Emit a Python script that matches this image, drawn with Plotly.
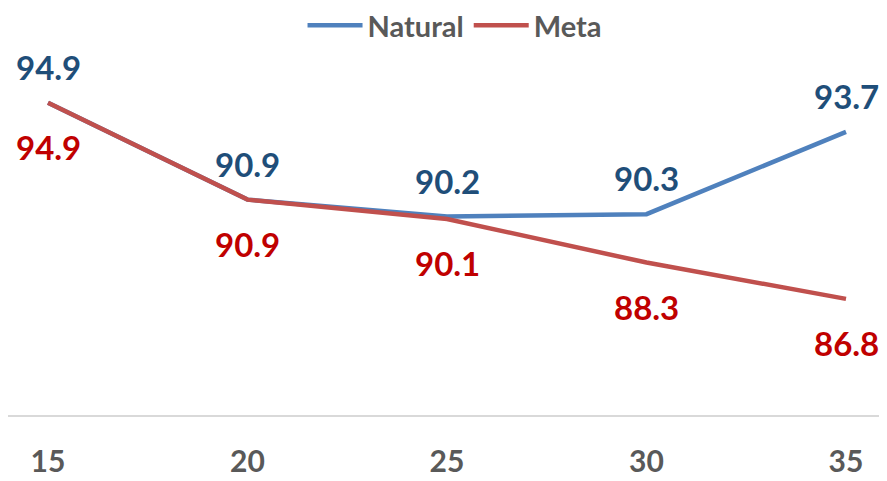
import plotly.graph_objects as go

categories = [15, 20, 25, 30, 35]
natural = [94.9, 90.9, 90.2, 90.3, 93.7]
meta = [94.9, 90.9, 90.1, 88.3, 86.8]
tick_labels = ["15", "20", "25", "30", "35"]

FONT = "Lato"
GRAY = "#595959"

fig = go.Figure()
fig.add_trace(go.Scatter(x=categories, y=natural, mode="lines", name="Natural",
                         line=dict(color="#4F81BD", width=4.5)))
fig.add_trace(go.Scatter(x=categories, y=meta, mode="lines", name="Meta",
                         line=dict(color="#C0504D", width=4.5)))

for xv, yv in zip(categories, natural):
    fig.add_annotation(x=xv, y=yv, text=f"{yv:.1f}", showarrow=False, yshift=36,
                       xanchor="center", yanchor="middle",
                       font=dict(family=FONT, size=33, color="#1F4E79", weight="bold"))
for xv, yv in zip(categories, meta):
    fig.add_annotation(x=xv, y=yv, text=f"{yv:.1f}", showarrow=False, yshift=-44,
                       xanchor="center", yanchor="middle",
                       font=dict(family=FONT, size=33, color="#C00000", weight="bold"))

# page body has an 8px margin; the figure is sized to the visible area
W, H = 879, 473
PX_PER_X = 39.9
PX_PER_Y = 24.2
PLOT_H = 407

fig.update_layout(
    width=W, height=H,
    margin=dict(l=0, r=0, t=0, b=H - PLOT_H, autoexpand=False),
    paper_bgcolor="white", plot_bgcolor="white",
    font=dict(family=FONT, color=GRAY),
    showlegend=True,
    legend=dict(orientation="h", x=0.508, xanchor="center", y=1.02, yanchor="top",
                bgcolor="rgba(0,0,0,0)",
                font=dict(family=FONT, size=29, color=GRAY, weight="bold"),
                itemwidth=55),
    xaxis=dict(range=[15 - 40 / PX_PER_X, 35 + (W - 838) / PX_PER_X], tickvals=categories,
               ticktext=tick_labels,
               showgrid=False, zeroline=False, showline=True, linecolor="#D9D9D9", linewidth=2,
               ticks="", ticklabelstandoff=19, automargin=False,
               tickfont=dict(family=FONT, size=30, color=GRAY, weight="bold")),
    yaxis=dict(range=[82, 82 + PLOT_H / PX_PER_Y], showgrid=False, zeroline=False, automargin=False,
               showticklabels=False, showline=False),
)

fig.write_html("out.html")
